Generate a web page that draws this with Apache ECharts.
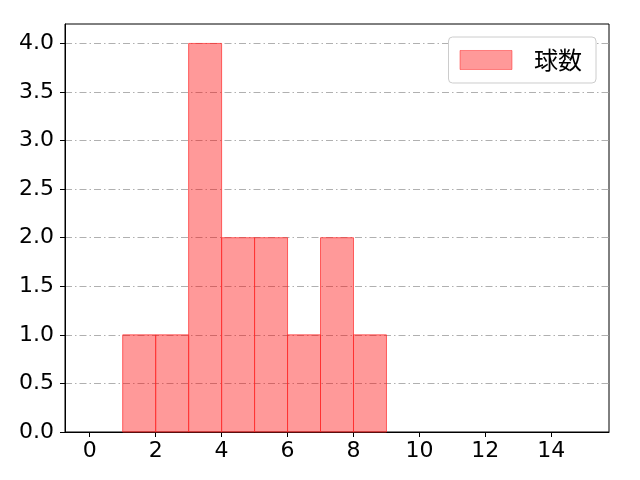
<!DOCTYPE html>
<html><head><meta charset="utf-8">
<script src="https://cdn.jsdelivr.net/npm/echarts@6/dist/echarts.min.js"></script>
<style>html,body{margin:0;padding:0;background:#fff}#c{width:640px;height:480px}</style>
</head><body><div id="c"></div>
<script>
const binStarts = [1, 2, 3, 4, 5, 6, 7, 8];
const binEnds = [2, 3, 4, 5, 6, 7, 8, 9];
const counts = [1, 1, 4, 2, 2, 1, 2, 1];
const seriesName = '球数';
const xTicks = [0, 2, 4, 6, 8, 10, 12, 14];
const yTicks = [0, 0.5, 1, 1.5, 2, 2.5, 3, 3.5, 4];

const NUMFONT = '"DejaVu Sans", sans-serif';
const CJKFONT = '"Noto Sans CJK JP", sans-serif';
const data = binStarts.map((s, i) => [s, binEnds[i], counts[i]]);
const chart = echarts.init(document.getElementById('c'), null, {renderer: 'canvas'});
chart.setOption({
  animation: false,
  grid: {left: 65, right: 31, top: 24, bottom: 48, show: true, borderColor: '#000', borderWidth: 1, backgroundColor: 'transparent'},
  xAxis: {
    type: 'value', min: -0.75, max: 15.75, interval: 2,
    axisLine: {show: true, onZero: false, lineStyle: {color: '#000'}},
    axisTick: {show: true, length: 5, lineStyle: {color: '#000'}, customValues: xTicks},
    axisLabel: {color: '#000', fontSize: 22, fontFamily: NUMFONT, margin: 8, customValues: xTicks},
    splitLine: {show: false}
  },
  yAxis: {
    type: 'value', min: 0, max: 4.2, interval: 0.5,
    axisLine: {show: true, onZero: false, lineStyle: {color: '#000'}},
    axisTick: {show: true, length: 5, lineStyle: {color: '#000'}, customValues: yTicks},
    axisLabel: {color: '#000', fontSize: 22, fontFamily: NUMFONT, margin: 11, customValues: yTicks,
      formatter: v => v.toFixed(1)},
    splitLine: {show: true, lineStyle: {color: '#b0b0b0', width: 1, type: [7, 3, 1.5, 3]}}
  },
  legend: {
    show: true, right: 44, top: 37, orient: 'vertical',
    padding: [11, 14, 11, 11],
    backgroundColor: '#fff', borderColor: '#cccccc', borderWidth: 1, borderRadius: 4,
    itemWidth: 52, itemHeight: 19,
    textStyle: {fontSize: 24, fontFamily: CJKFONT, color: '#000', padding: [0, 0, 0, 17]},
    data: [{name: seriesName, icon: 'rect', itemStyle: {color: 'rgba(255,0,0,0.4)', borderColor: 'rgba(255,0,0,0.4)', borderWidth: 1}}]
  },
  series: [{
    type: 'custom', name: seriesName,
    itemStyle: {color: 'rgba(255,0,0,0.4)'},
    renderItem: function (params, api) {
      const p0 = api.coord([api.value(0), 0]);
      const p1 = api.coord([api.value(1), api.value(2)]);
      return {
        type: 'rect',
        shape: {x: p0[0], y: p1[1], width: p1[0] - p0[0], height: p0[1] - p1[1]},
        style: {fill: 'rgba(255,0,0,0.4)', stroke: 'rgba(255,40,40,0.7)', lineWidth: 1}
      };
    },
    encode: {x: [0, 1], y: 2},
    data: data
  }]
});
</script></body></html>
